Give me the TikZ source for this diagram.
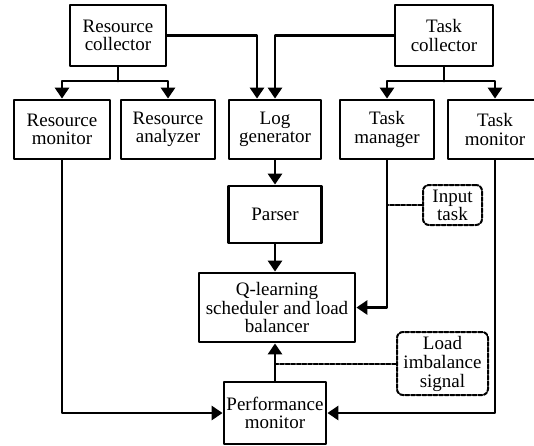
\documentclass[tikz,border=0pt]{standalone}
\usepackage{fontspec}
\setmainfont{Liberation Serif}
\usetikzlibrary{arrows.meta}
\begin{document}
\begin{tikzpicture}[x=1pt, y=-1pt, line cap=round, line join=round,
    box/.style={draw, line width=2.8pt, align=center, inner sep=0pt, minimum height=59pt,
      font=\fontsize{19}{18.5}\selectfont},
    note/.style={draw, line width=2pt, dash pattern=on 4pt off 1.6pt, rounded corners=6pt,
      align=center, inner sep=0pt, font=\fontsize{19}{17}\selectfont},
    arr/.style={line width=2.8pt, -{Triangle[width=14pt,length=11pt]}},
    link/.style={line width=2pt, dash pattern=on 4pt off 1.6pt}]
    \useasboundingbox (0,0) rectangle (534,445);
    % top row
    \node[box, minimum width=96pt, minimum height=61pt] (rescol) at (118,35.5) {Resource\\collector};
    \node[box, minimum width=98pt, minimum height=61pt] (taskcol) at (444,35.5) {Task\\collector};
    % second row
    \node[box, minimum width=96pt] (resmon) at (62,129.5) {Resource\\monitor};
    \node[box, minimum width=94pt] (resana) at (168,129.5) {Resource\\analyzer};
    \node[box, minimum width=92pt] (loggen) at (275,129.5) {Log\\generator};
    \node[box, minimum width=94pt] (taskman) at (387,129.5) {Task\\manager};
    \node[box, minimum width=94pt] (taskmon) at (495,129.5) {Task\\monitor};
    % middle column
    \node[box, minimum width=93pt, minimum height=57pt] (parser) at (275,214.5) {Parser};
    \node[box, minimum width=156pt, minimum height=69pt] (qlearn) at (277,307.5) {Q-learning\\scheduler and load\\balancer};
    \node[box, minimum width=102pt, minimum height=62pt] (perf) at (275,413) {Performance\\monitor};
    % signals
    \node[note, minimum width=59pt, minimum height=40pt] (input) at (452.5,205) {Input\\task};
    \node[note, minimum width=91pt, minimum height=63pt, font=\fontsize{19}{19}\selectfont] (imbal) at (442.5,363.5) {Load\\imbalance\\signal};
    \coordinate (rj) at (118,81);
    \coordinate (tj) at (444,81);
    \draw[line width=2.8pt] (rescol.south) -- (rj);
    \draw[arr] (rj) -| (resmon.north);
    \draw[arr] (rj) -| (resana.north);
    \draw[line width=2.8pt] (taskcol.south) -- (tj);
    \draw[arr] (tj) -| (taskman.north);
    \draw[arr] (tj) -| (taskmon.north);
    \draw[arr] (rescol.east) -| ([xshift=-18pt]loggen.north);
    \draw[arr] (taskcol.west) -| (loggen.north);
    \draw[arr] (loggen.south) -- (parser.north);
    \draw[arr] (parser.south) -- (parser.south |- qlearn.north);
    \draw[arr] (taskman.south) |- (qlearn.east);
    \draw[arr] (resmon.south) |- (perf.west);
    \draw[arr] (taskmon.south) |- (perf.east);
    \draw[arr] (perf.north) -- (perf.north |- qlearn.south);
    \draw[link] (input.west) -- (taskman.south |- input.west);
    \draw[link] (imbal.west) -- (perf.north |- imbal.west);
  \end{tikzpicture}
\end{document}
